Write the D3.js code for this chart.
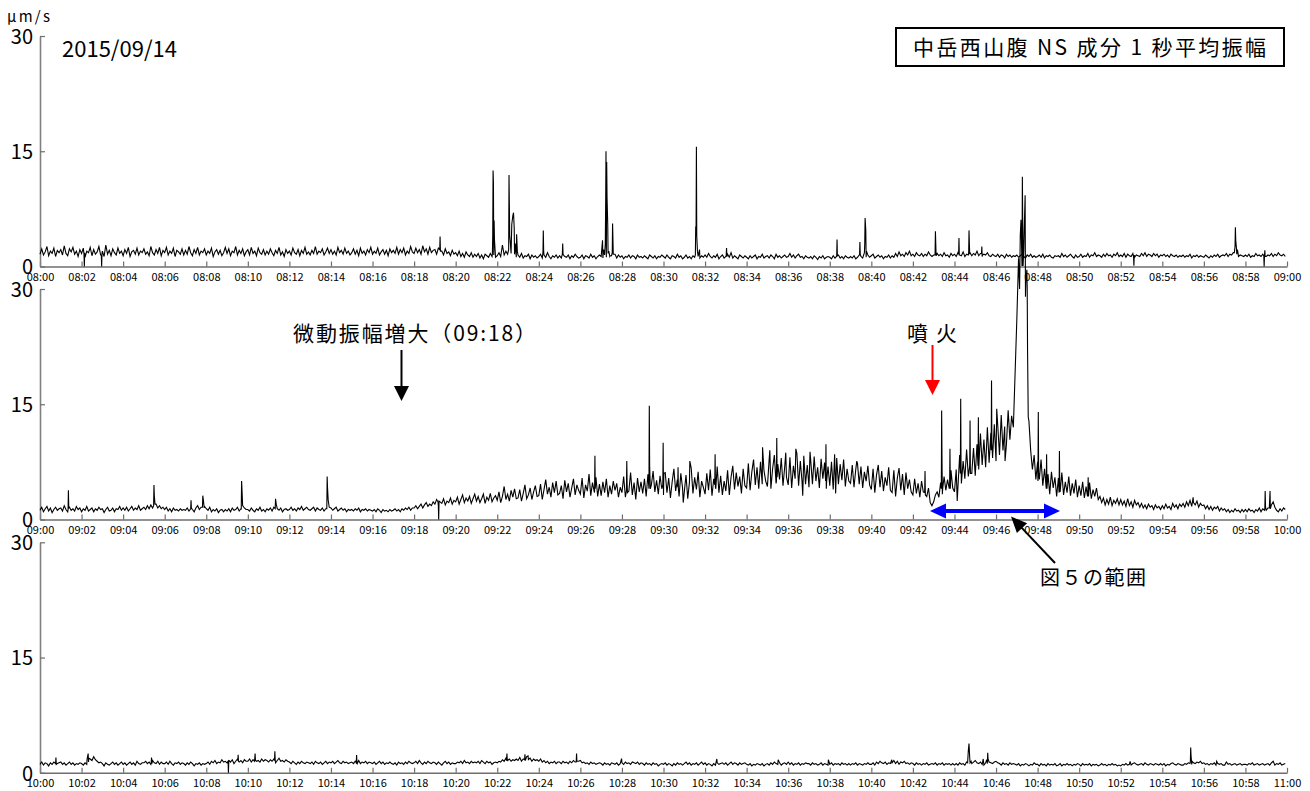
<!DOCTYPE html>
<html><head><meta charset="utf-8">
<script src="https://cdn.jsdelivr.net/npm/d3@7"></script>
<style>
body{margin:0;background:#fff}
svg{display:block}
text{font-family:"Noto Sans CJK JP","Noto Sans",sans-serif;fill:#000}
</style>
</head><body>
<svg id="chart" width="1310" height="791"></svg>
<script>
// ---------- DATA ----------
const panelStarts = ["2015-09-14T08:00:00", "2015-09-14T09:00:00", "2015-09-14T10:00:00"];
const yTicks = [0, 15, 30];
const sampleStep = 5; // seconds between samples inside each minute row

// panel 1 : 08:00-09:00, one row per minute (12 samples, every 5 s)
const p1Noise = [
[1.6,2.3,1.5,1.9,2.6,1.4,2.0,1.7,2.4,1.3,2.1,1.8],
[2.2,1.5,2.7,1.7,1.4,2.3,1.9,2.5,1.6,2.0,1.3,2.2],
[1.7,2.4,1.2,2.0,1.8,2.5,1.4,2.2,1.6,1.9,2.6,1.5],
[2.0,1.3,2.8,1.6,2.1,1.4,2.3,1.8,1.5,2.4,1.7,2.0],
[1.4,2.2,1.7,2.5,1.3,1.9,2.1,1.6,2.4,1.5,2.0,1.8],
[2.3,1.6,1.9,1.4,2.6,1.8,1.5,2.2,1.7,2.5,1.4,2.1],
[1.8,2.5,1.5,2.0,1.7,2.4,1.3,2.1,1.9,1.6,2.3,1.5],
[2.1,1.6,2.6,1.8,1.4,2.2,1.7,2.5,1.5,2.0,1.8,2.3],
[1.5,2.0,1.7,2.4,1.3,1.9,2.2,1.6,2.1,1.4,1.8,2.5],
[1.7,2.3,1.4,2.0,1.8,2.6,1.5,2.1,1.7,2.3,1.4,1.9],
[2.2,1.5,2.5,1.7,2.0,1.4,2.4,1.8,1.6,2.2,1.5,2.0],
[1.6,2.3,1.8,1.4,2.1,1.7,2.5,1.5,1.9,1.3,2.2,1.7],
[2.0,1.5,2.4,1.8,1.6,2.2,1.4,2.1,1.7,2.5,1.6,1.9],
[1.5,2.1,1.7,2.6,1.6,2.0,1.8,2.3,1.5,1.9,2.4,1.7],
[2.2,1.6,2.0,1.5,2.5,1.8,2.1,1.6,2.4,1.7,2.0,1.5],
[1.8,2.3,1.6,2.1,1.4,2.4,1.7,2.0,1.5,2.2,1.8,2.5],
[1.6,2.0,1.7,2.4,1.5,1.9,2.2,1.6,2.1,1.4,2.3,1.8],
[2.1,1.7,2.5,1.6,2.2,1.8,2.4,1.5,2.0,1.7,2.6,1.9],
[1.7,2.4,1.8,2.2,1.6,2.7,1.9,2.3,1.6,2.5,1.8,2.1],
[2.2,1.6,2.4,1.8,2.0,1.5,2.3,1.7,1.9,1.4,2.1,1.6],
[1.8,1.4,2.0,1.3,1.7,1.2,1.9,1.5,1.3,1.8,1.2,1.6],
[1.3,1.7,1.1,1.5,1.0,1.6,1.4,1.2,1.7,1.3,1.5,1.2],
[1.4,1.8,1.3,2.3,1.5,2.0,1.6,1.4,1.7,1.3,1.6,1.2],
[1.5,1.2,1.7,1.1,1.4,1.3,1.6,1.0,1.5,1.2,1.4,1.1],
[1.3,1.6,1.1,1.5,1.2,1.8,1.3,1.0,1.4,1.2,1.5,1.1],
[1.4,1.1,1.6,1.3,1.2,1.5,1.0,1.4,1.2,1.6,1.3,1.1],
[1.2,1.5,1.0,1.4,1.3,1.1,1.6,1.2,1.4,1.0,1.3,1.5],
[1.3,1.1,1.5,1.2,1.7,1.3,1.4,1.2,1.6,1.1,1.5,1.2],
[1.4,1.0,1.3,1.2,1.5,1.1,1.4,1.3,1.0,1.5,1.2,1.3],
[1.1,1.4,1.2,1.0,1.5,1.3,1.1,1.4,1.0,1.3,1.2,1.5],
[1.3,1.1,1.5,1.2,1.0,1.4,1.3,1.1,1.6,1.2,1.4,1.0],
[1.2,1.5,1.1,1.3,1.0,1.4,1.2,1.5,1.3,1.1,1.4,1.2],
[1.5,1.2,1.7,1.3,1.1,1.4,1.2,1.6,1.0,1.3,1.5,1.1],
[1.3,1.6,1.2,1.8,1.1,1.4,1.2,1.0,1.5,1.3,1.1,1.4],
[1.2,1.0,1.4,1.1,1.3,1.5,1.0,1.3,1.2,1.6,1.1,1.3],
[1.4,1.1,1.5,1.3,1.0,1.6,1.2,1.4,1.1,1.3,1.5,1.2],
[1.3,1.7,1.2,1.5,1.1,1.4,1.6,1.2,1.3,1.0,1.4,1.2],
[1.1,1.3,1.0,1.4,1.2,0.9,1.3,1.1,1.4,1.0,1.2,1.3],
[1.2,1.0,1.4,1.1,1.3,1.5,1.1,1.3,1.0,1.4,1.2,1.1],
[1.3,1.1,1.4,1.0,1.2,1.5,1.3,1.1,1.4,1.2,1.5,1.2],
[1.4,1.6,1.1,1.3,1.5,1.2,1.4,1.0,1.3,1.2,1.5,1.1],
[1.4,1.2,1.7,1.3,1.9,1.4,1.6,1.3,1.8,1.5,2.0,1.4],
[1.6,1.3,1.8,1.5,1.4,1.7,1.3,1.6,1.4,1.9,1.5,1.3],
[1.5,1.2,1.7,1.4,1.6,1.3,1.8,1.4,1.5,1.2,1.7,1.4],
[1.6,1.3,1.8,1.5,1.4,1.9,1.3,1.6,1.5,1.8,1.4,1.7],
[1.5,2.0,1.4,1.7,1.3,1.6,1.5,1.8,1.4,1.3,1.6,1.4],
[1.3,1.6,1.2,1.5,1.4,1.1,1.6,1.3,1.5,1.2,1.4,1.3],
[1.5,1.2,1.4,1.6,1.3,1.1,1.5,1.3,1.6,1.2,1.4,1.2],
[1.3,1.5,1.2,1.6,1.1,1.4,1.3,1.5,1.2,1.1,1.4,1.3],
[1.4,1.2,1.7,1.3,1.5,1.2,1.4,1.6,1.3,1.1,1.5,1.2],
[1.3,1.6,1.2,1.4,1.3,1.7,1.2,1.5,1.4,1.8,1.3,1.5],
[1.4,1.2,1.6,1.3,1.7,1.4,1.5,1.2,1.6,1.4,1.8,1.3],
[1.5,1.3,1.7,1.2,1.6,1.4,1.3,1.7,1.2,1.5,1.4,1.3],
[1.7,1.4,1.8,1.3,1.6,1.5,1.3,1.7,1.4,1.6,1.2,1.5],
[1.4,1.6,1.3,1.5,1.2,1.6,1.4,1.3,1.5,1.2,1.4,1.3],
[1.5,1.2,1.4,1.3,1.6,1.1,1.4,1.3,1.5,1.2,1.4,1.3],
[1.2,1.5,1.3,1.1,1.4,1.2,1.5,1.3,1.6,1.2,1.4,1.5],
[1.4,1.7,1.3,1.6,1.5,1.8,1.4,1.6,1.3,1.5,1.4,1.3],
[1.5,1.3,1.6,1.2,1.4,1.3,1.7,1.4,1.5,1.3,1.6,1.4],
[1.3,1.5,1.4,1.7,1.3,1.6,1.4,1.8,1.5,1.4,1.6,1.3]
];
// [second, value] short events read at 1-s resolution
const p1Spikes = [
[127,1.6],[128,0],[129,1.8],[177,1.5],[178,0],[179,1.7],
[1154,2.2],[1155,3.9],[1156,2.0],
[1306,1.6],[1307,4.0],[1308,12.5],[1309,10.9],[1311,6.0],[1312,3.5],[1314,2.0],[1335,2.8],
[1353,2.2],[1354,11.9],[1355,8.0],[1356,4.0],[1358,3.0],[1362,5.5],[1365,6.6],[1367,7.0],[1369,5.0],[1372,3.0],[1376,4.2],[1378,2.0],
[1452,1.8],[1453,4.7],[1454,2.0],
[1508,1.6],[1509,3.0],[1511,1.5],
[1624,3.4],[1627,2.2],[1632,3.0],[1633,8.0],[1634,15.0],[1636,13.6],[1637,9.0],[1639,5.5],[1642,2.0],[1646,1.4],[1652,1.8],[1653,5.6],[1655,1.6],
[1892,1.5],[1893,5.2],[1894,4.0],[1895,15.6],[1896,4.0],[1898,2.0],[1904,2.2],
[1981,1.4],[1982,2.4],[1983,1.3],
[2299,1.3],[2301,3.5],[2302,1.4],
[2366,1.5],[2367,3.2],[2368,1.6],[2380,1.8],[2381,3.0],[2382,6.3],[2384,4.7],[2386,2.0],
[2584,1.5],[2585,4.6],[2586,3.0],[2587,1.4],
[2652,1.6],[2653,3.7],[2654,1.5],
[2681,1.8],[2682,4.7],[2683,3.0],[2684,1.6],
[2718,1.7],[2719,2.6],[2721,1.5],
[3157,1.3],[3158,0.1],[3159,1.5],
[3448,1.8],[3450,2.6],[3451,5.1],[3452,3.4],[3454,2.4],[3457,2.2],
[3533,1.4],[3534,0],[3536,2.1],[3537,1.3]
];

// panel 2 : 09:00-10:00
const p2Noise = [
[1.2,1.6,1.0,1.4,1.7,1.1,1.5,0.9,1.3,1.6,1.2,1.4],
[1.5,1.1,1.8,1.3,1.0,1.6,1.2,1.4,1.1,1.7,1.3,1.5],
[1.0,1.4,1.2,1.7,1.1,1.3,1.5,1.0,1.4,1.2,1.6,1.3],
[1.4,0.9,1.3,1.6,1.1,1.2,1.5,1.0,1.4,1.3,1.7,1.2],
[1.5,1.2,1.6,1.1,1.4,1.7,1.2,1.5,1.3,1.8,1.2,1.4],
[1.6,1.3,1.8,1.4,1.9,1.5,1.7,2.0,1.5,1.8,1.4,1.6],
[1.3,1.6,1.1,1.4,1.0,1.5,1.2,1.3,1.1,1.4,1.2,1.3],
[1.2,1.5,1.1,1.6,1.3,1.0,1.5,1.8,1.3,1.6,1.4,1.7],
[1.4,1.2,1.6,1.0,1.3,1.1,1.4,0.9,1.2,1.3,1.0,1.3],
[1.1,1.4,1.0,1.5,1.2,1.3,1.6,1.1,1.4,1.2,1.5,1.3],
[1.3,1.1,1.5,1.2,1.0,1.4,1.2,1.6,1.1,1.3,1.0,1.4],
[1.2,1.5,1.1,1.6,1.3,1.4,1.2,1.5,1.0,1.3,1.4,1.2],
[1.3,1.6,1.2,1.4,1.1,1.5,1.3,1.7,1.2,1.4,1.6,1.3],
[1.2,1.4,1.6,1.1,1.5,1.3,1.2,1.5,1.1,1.4,1.3,1.2],
[1.5,1.2,1.4,1.6,1.1,1.3,1.5,1.2,1.4,1.0,1.3,1.2],
[1.3,1.1,1.4,1.2,1.5,1.0,1.3,1.2,1.4,1.1,1.3,1.2],
[1.1,1.3,1.0,1.4,1.2,0.9,1.3,1.1,1.2,1.0,1.3,1.1],
[1.2,1.4,1.1,1.3,1.0,1.4,1.2,1.5,1.3,1.6,1.2,1.5],
[1.5,1.8,1.4,1.7,2.0,1.5,1.9,2.2,1.7,2.0,1.8,2.3],
[2.0,2.6,1.8,2.3,2.1,2.7,1.9,2.4,2.2,2.8,2.0,2.5],
[2.3,2.9,2.0,2.6,3.2,2.2,2.8,2.4,3.0,2.1,2.7,3.3],
[2.4,3.0,2.2,2.7,3.3,2.1,2.9,2.5,3.4,2.3,2.8,3.1],
[2.5,3.6,2.2,3.0,4.3,2.6,3.3,2.4,3.8,2.9,4.0,2.7],
[2.8,3.9,2.4,3.4,4.5,2.7,3.2,4.1,2.6,3.6,4.4,3.0],
[3.1,4.6,2.6,3.9,5.2,3.3,4.2,2.9,4.8,3.5,5.0,3.2],
[3.4,4.4,2.7,5.1,3.6,4.7,2.9,4.1,5.3,3.2,4.5,3.8],
[3.3,5.4,2.8,4.5,3.7,5.9,3.1,4.8,3.6,5.5,3.0,4.6],
[3.1,4.9,3.5,5.3,2.9,4.4,3.3,5.0,3.8,4.7,2.9,4.2],
[3.5,5.6,2.9,4.6,3.7,6.1,3.2,4.8,2.6,5.4,3.6,4.9],
[3.4,5.3,3.0,5.9,3.7,4.5,6.3,3.6,5.1,3.3,5.7,4.0],
[3.2,6.1,3.5,5.4,2.8,4.9,6.6,3.7,5.2,3.0,6.0,4.1],
[3.6,5.8,2.7,4.9,6.7,3.4,5.5,3.9,6.2,2.9,5.0,4.2],
[3.3,6.0,3.8,6.5,3.1,5.3,4.2,6.9,3.5,5.7,3.2,5.0],
[3.7,6.4,3.2,5.5,7.0,3.9,6.1,4.3,5.6,3.4,6.6,4.4],
[4.1,7.3,3.8,6.2,7.8,4.5,6.8,4.0,7.5,4.6,6.4,5.0],
[4.3,7.8,4.0,6.6,8.4,4.7,7.2,5.2,8.0,4.4,6.9,5.5],
[4.5,8.1,4.1,7.0,5.3,8.6,4.4,7.6,4.9,8.3,4.6,7.1],
[4.2,7.7,4.6,8.2,5.0,6.8,4.1,7.9,5.3,7.4,4.0,6.9],
[4.4,7.5,3.9,6.8,8.0,4.6,7.2,5.1,7.8,4.3,6.6,5.0],
[4.7,7.1,4.2,6.5,7.3,4.6,6.9,4.1,6.2,5.0,7.0,4.5],
[3.9,6.6,3.5,5.8,7.1,4.2,6.3,3.7,5.5,4.4,6.8,3.8],
[3.5,6.4,3.0,5.4,6.7,3.8,5.9,3.2,6.1,4.0,5.2,3.6],
[3.2,5.3,3.4,4.7,2.9,5.0,3.6,4.4,3.0,4.1,2.2,1.8],
[2.3,3.2,3.6,2.9,4.8,3.3,5.6,3.8,5.2,4.0,6.4,4.1],
[3.6,6.5,4.2,8.4,4.7,7.6,5.3,9.1,5.6,10.0,6.0,9.3],
[5.7,9.8,6.5,11.2,7.1,10.4,6.8,12.0,7.4,11.3,8.0,12.4],
[7.6,12.2,8.4,13.6,9.0,12.1,9.8,14.2,10.4,13.5,12.0,15.6],
[26,31,37,33,35,29,30,12.8,9.0,6.5,8.4,5.2],
[7.5,5.2,7.8,4.4,6.6,3.8,5.9,3.3,6.2,4.1,5.5,3.0],
[5.4,3.6,6.1,3.2,4.9,3.5,5.6,3.1,4.7,3.4,5.2,2.9],
[4.4,3.1,4.9,2.8,4.3,3.4,4.8,2.7,3.9,3.0,4.1,2.6],
[3.0,2.2,2.8,1.9,2.6,2.0,2.9,1.8,2.5,2.1,2.7,1.9],
[2.6,1.9,2.4,1.7,2.7,1.8,2.3,1.6,2.5,1.9,2.2,1.6],
[2.1,1.5,1.9,1.4,2.0,1.6,1.8,1.3,1.9,1.5,1.7,1.3],
[1.8,1.4,2.0,1.5,1.7,1.3,2.1,1.6,1.9,1.4,2.0,1.7],
[2.1,1.6,2.3,1.8,2.5,1.7,2.2,1.9,2.4,1.6,2.1,1.8],
[1.9,1.4,1.8,1.3,1.7,1.2,1.6,1.4,1.7,1.1,1.5,1.2],
[1.4,1.0,1.3,0.9,1.2,1.0,1.4,1.1,1.2,0.9,1.3,1.0],
[1.3,1.0,1.4,1.1,1.2,0.9,1.3,1.1,1.5,1.0,1.4,1.2],
[1.2,1.5,2.6,1.9,2.3,1.6,1.2,1.0,1.4,1.1,1.5,1.3]
];
const p2Spikes = [
[81,1.3],[82,3.8],[83,1.5],
[328,1.8],[329,4.5],[330,3.1],[332,2.0],
[435,1.4],[436,2.5],[437,1.5],
[469,1.6],[470,3.1],[472,2.4],[474,1.5],
[581,1.3],[582,5.0],[583,4.0],[585,1.8],
[679,1.4],[680,2.7],[682,2.0],
[828,1.4],[829,5.6],[830,4.2],[832,2.5],[835,1.6],
[1149,2.3],[1151,0],[1152,2.4],
[1601,3.5],[1602,8.3],[1603,4.0],
[1693,3.8],[1694,7.6],[1696,3.5],
[1758,4.0],[1759,14.8],[1760,7.0],[1762,4.0],
[1798,4.5],[1799,10.0],[1801,6.0],
[1841,4.2],[1842,6.8],[1843,4.0],[1857,2.2],[1876,7.6],
[1948,4.5],[1949,8.5],[1951,4.0],
[2086,9.4],[2107,9.0],[2126,5.0],[2127,10.6],[2128,5.5],[2153,8.7],
[2182,9.2],[2202,3.1],[2223,8.8],
[2268,5.0],[2269,9.8],[2271,5.0],[2294,8.5],[2297,3.4],[2358,7.6],
[2554,3.5],[2555,6.3],[2556,3.2],
[2602,4.0],[2603,14.2],[2604,8.0],[2606,4.0],
[2626,4.5],[2627,9.2],[2628,4.0],
[2648,2.4],
[2657,6.0],[2658,15.7],[2659,7.0],
[2684,7.0],[2685,12.9],[2686,6.0],
[2708,7.0],[2709,13.3],[2711,7.5],
[2746,9.0],[2747,18.1],[2748,10.0],
[2762,14.4],[2786,7.6],[2815,19.0],
[2825,34],[2828,30],[2832,39],[2836,44.6],[2838,33],[2841,37],[2844,42.2],[2846,31],[2849,32.5],[2851,22],[2853,13.3],
[2881,5.0],[2882,14.0],[2883,6.0],
[2905,4.0],[2906,8.5],[2907,4.0],
[2942,3.5],[2943,8.9],[2944,4.0],
[3024,3.0],[3026,5.5],[3027,3.0],
[3329,2.9],
[3536,1.4],[3537,3.7],[3538,1.6],[3549,1.5],[3551,3.7],[3552,1.4]
];

// panel 3 : 10:00-11:00
const p3Noise = [
[1.1,1.4,1.0,1.3,1.2,0.9,1.3,1.1,1.4,1.0,1.2,1.3],
[1.4,1.1,1.3,1.0,1.2,1.4,1.1,1.3,1.0,1.2,1.1,1.3],
[1.2,1.0,1.3,1.1,1.4,1.8,1.6,2.1,1.7,1.5,1.3,1.4],
[1.2,0.9,1.3,1.1,1.0,1.2,1.4,1.1,1.3,1.0,1.2,1.4],
[1.1,1.3,1.0,1.2,1.4,1.1,1.3,1.0,1.5,1.2,1.1,1.3],
[1.3,1.5,1.2,1.4,1.1,1.6,1.3,1.2,1.5,1.1,1.4,1.2],
[1.2,1.4,1.1,1.5,1.2,1.0,1.3,1.2,1.4,1.1,1.3,1.2],
[1.0,1.3,1.1,1.4,1.2,0.9,1.2,1.1,1.3,1.0,1.2,1.1],
[1.2,1.4,1.1,1.5,1.3,1.6,1.2,1.4,1.3,1.7,1.4,1.5],
[1.3,1.6,1.4,1.7,1.2,1.5,1.8,1.4,1.6,1.3,1.7,1.5],
[1.5,1.8,1.4,1.7,1.9,1.5,1.6,1.4,1.8,1.5,1.7,1.6],
[1.4,1.7,1.5,1.8,1.3,1.6,1.9,1.5,1.6,1.4,1.7,1.5],
[1.4,1.2,1.5,1.3,1.1,1.4,1.2,1.5,1.3,1.2,1.4,1.3],
[1.2,1.4,1.1,1.5,1.3,1.2,1.4,1.1,1.3,1.5,1.2,1.4],
[1.3,1.5,1.2,1.4,1.6,1.3,1.2,1.5,1.3,1.4,1.2,1.3],
[1.4,1.2,1.5,1.3,1.6,1.2,1.4,1.3,1.5,1.2,1.4,1.3],
[1.2,1.4,1.1,1.3,1.5,1.2,1.4,1.1,1.3,1.2,1.4,1.2],
[1.1,1.3,1.0,1.4,1.2,1.3,1.1,1.4,1.2,1.5,1.3,1.2],
[1.3,1.5,1.2,1.6,1.3,1.1,1.4,1.2,1.5,1.3,1.2,1.4],
[1.3,1.1,1.4,1.2,1.0,1.3,1.5,1.2,1.4,1.1,1.3,1.2],
[1.2,1.4,1.3,1.5,1.2,1.6,1.3,1.4,1.2,1.5,1.3,1.4],
[1.3,1.5,1.2,1.6,1.4,1.2,1.5,1.3,1.4,1.1,1.3,1.4],
[1.3,1.5,1.4,1.7,1.5,1.9,1.6,1.8,1.5,1.7,1.6,1.8],
[1.6,2.0,1.5,1.8,1.6,2.1,1.7,1.9,1.5,1.8,1.6,1.7],
[1.5,1.8,1.4,1.6,1.3,1.5,1.2,1.4,1.3,1.5,1.2,1.4],
[1.4,1.2,1.5,1.3,1.4,1.2,1.5,1.3,1.6,1.4,1.7,1.5],
[1.6,1.3,1.4,1.2,1.3,1.1,1.4,1.2,1.3,1.1,1.2,1.3],
[1.2,1.0,1.3,1.1,1.2,1.0,1.3,1.2,1.1,1.3,1.0,1.2],
[1.3,1.1,1.4,1.2,1.3,1.1,1.4,1.3,1.2,1.4,1.1,1.3],
[1.2,1.0,1.3,1.1,1.2,1.0,1.3,1.1,1.2,0.9,1.1,1.2],
[1.1,1.3,1.0,1.2,1.1,0.9,1.2,1.0,1.3,1.1,1.2,1.0],
[1.2,1.4,1.1,1.3,1.0,1.2,1.1,1.3,1.0,1.2,1.4,1.1],
[1.3,1.0,1.2,1.1,0.9,1.2,1.0,1.3,1.1,1.2,1.3,1.1],
[1.3,1.0,1.2,1.4,1.1,1.3,1.2,1.0,1.3,1.1,1.2,1.3],
[1.1,1.0,1.2,0.9,1.1,1.0,1.2,1.1,1.0,1.2,0.9,1.1],
[1.2,1.0,1.3,1.1,1.4,1.2,1.1,1.3,1.0,1.2,1.3,1.1],
[1.4,1.1,1.3,1.0,1.2,1.1,1.3,1.0,1.2,1.1,1.3,1.2],
[1.2,1.0,1.3,1.1,1.2,1.0,1.1,1.3,1.0,1.2,1.1,1.0],
[1.1,1.3,1.0,1.2,1.1,1.2,1.0,1.3,1.1,1.2,1.0,1.2],
[1.0,1.2,1.1,1.3,1.0,1.2,1.1,1.0,1.2,1.1,1.3,1.1],
[1.1,1.3,1.0,1.4,1.2,1.5,1.3,1.2,1.4,1.1,1.3,1.2],
[1.3,1.6,1.2,1.5,1.1,1.4,1.3,1.5,1.2,1.3,1.1,1.3],
[1.2,1.0,1.3,1.1,1.2,1.0,1.2,1.1,1.3,1.0,1.1,1.2],
[1.1,1.3,1.0,1.2,1.1,1.3,1.0,1.2,1.1,1.2,1.0,1.2],
[1.0,1.2,1.0,1.3,1.1,1.2,1.0,1.4,1.1,1.3,1.2,1.4],
[1.6,1.3,1.2,1.4,1.1,1.0,1.3,1.2,1.4,1.3,1.2,1.4],
[1.5,1.3,1.2,1.0,1.3,1.1,1.2,1.0,1.3,1.1,1.2,1.1],
[1.0,1.2,0.9,1.1,1.0,1.2,1.1,0.9,1.1,1.0,1.3,1.1],
[1.1,0.9,1.2,1.0,1.1,0.9,1.2,1.0,1.1,1.0,1.2,0.9],
[1.0,1.2,0.9,1.1,1.0,1.2,1.0,1.1,0.9,1.1,1.0,1.2],
[1.1,0.9,1.2,1.0,1.1,1.0,1.2,0.9,1.1,1.0,1.1,0.9],
[1.0,1.2,1.0,1.1,0.9,1.1,1.0,1.2,1.0,1.1,0.9,1.0],
[0.9,1.1,1.0,1.2,1.0,1.1,1.0,1.2,1.3,1.1,1.0,1.1],
[1.2,1.0,1.3,1.1,1.0,1.2,1.1,1.0,1.2,1.1,1.0,1.2],
[1.0,1.2,0.9,1.1,1.0,1.2,1.3,1.1,1.0,1.2,1.1,1.0],
[1.0,1.2,1.1,1.3,1.2,1.1,1.3,1.2,1.4,1.3,1.5,1.2],
[1.3,1.1,1.2,1.0,1.2,1.1,1.3,1.0,1.2,1.1,1.2,1.0],
[1.0,1.4,1.1,1.2,1.0,1.1,1.2,1.0,1.1,1.2,1.0,1.1],
[1.1,1.0,1.2,1.1,1.3,1.0,1.1,1.2,1.0,1.1,1.2,1.0],
[1.1,1.2,1.0,1.3,1.1,1.0,1.2,1.1,1.3,1.0,1.1,1.2]
];
const p3Spikes = [
[45,1.2],[46,2.0],[47,1.1],
[136,1.8],[139,2.5],[141,1.9],
[321,1.3],[322,2.0],[323,1.2],
[543,1.5],[544,0],[546,1.6],
[571,1.6],[572,2.35],[573,1.5],
[619,1.5],[621,2.5],[622,1.6],
[677,1.6],[678,2.8],[679,1.7],
[913,1.3],[914,2.3],[916,1.2],
[1347,1.6],[1348,2.5],[1349,1.7],
[1399,1.7],[1400,2.4],[1401,1.6],[1409,2.2],
[1548,1.4],[1549,2.5],[1550,1.5],
[1679,1.85],[1954,1.8],[2131,1.7],[2276,1.7],[2459,1.7],
[2678,1.3],[2680,2.9],[2682,3.8],[2684,2.0],[2688,1.5],
[2723,1.8],[2733,1.7],[2736,2.6],[2737,1.8],
[3147,1.5],
[3321,1.4],[3322,3.3],[3323,2.2],[3326,1.5],
[3397,1.5],[3560,1.5]
];

const panelNoise = [p1Noise, p2Noise, p3Noise];
const panelSpikes = [p1Spikes, p2Spikes, p3Spikes];

// ---------- LAYOUT ----------
const svg = d3.select("#chart");
const xLeft = 40, xRight = 1287;
const panelTops = [36, 289, 542.3];
const panelH = 230.5;

function buildSeries(rows, spikes) {
  const m = new Map();
  rows.forEach((row, minute) => row.forEach((v, j) => m.set(minute * 60 + j * sampleStep, v)));
  spikes.forEach(([t, v]) => m.set(t, v));
  return Array.from(m, ([t, v]) => ({t, v})).sort((a, b) => a.t - b.t);
}

panelStarts.forEach((s, i) => {
  const start = new Date(s);
  const end = new Date(start.getTime() + 3600 * 1000);
  const top = panelTops[i], bottom = top + panelH;
  const x = d3.scaleTime().domain([start, end]).range([xLeft, xRight]);
  const y = d3.scaleLinear().domain([0, 30]).range([bottom, top]);
  const g = svg.append("g");

  const xa = g.append("g").attr("transform", `translate(0,${bottom})`)
    .call(d3.axisBottom(x).ticks(d3.timeMinute.every(2)).tickFormat(d3.timeFormat("%H:%M"))
      .tickSizeInner(-5).tickSizeOuter(0));
  xa.select(".domain").attr("stroke", "#6e6e6e").attr("stroke-width", 1.5);
  xa.selectAll(".tick line").attr("stroke", "#6e6e6e").attr("stroke-width", 1.2);
  xa.selectAll(".tick text").attr("y", 14).attr("dy", 0)
    .style("font-size", "11px").style("font-family", "'Noto Sans CJK JP',sans-serif").attr("fill", "#222");

  const ya = g.append("g").attr("transform", `translate(${xLeft},0)`)
    .call(d3.axisLeft(y).tickValues(yTicks).tickFormat(d3.format("d")).tickSizeInner(-5).tickSizeOuter(0).tickPadding(7));
  ya.select(".domain").attr("stroke", "#808080").attr("stroke-width", 1.6);
  ya.selectAll(".tick line").attr("stroke", "#6e6e6e").attr("stroke-width", 1.2);
  ya.selectAll(".tick text").attr("dy", "0.36em")
    .style("font-size", "20px").style("font-family", "'Noto Sans CJK JP',sans-serif").attr("fill", "#000");

  const data = buildSeries(panelNoise[i], panelSpikes[i]);
  const line = d3.line()
    .x(d => x(new Date(start.getTime() + d.t * 1000)))
    .y(d => y(d.v));
  g.append("path").datum(data).attr("d", line)
    .attr("fill", "none").attr("stroke", "#000").attr("stroke-width", 1.1).attr("stroke-linejoin", "miter");
});

// ---------- ANNOTATIONS ----------
svg.append("text").attr("x", 7).attr("y", 22).style("font-size", "15px")
  .attr("textLength", 43).attr("lengthAdjust", "spacing").text("μm/s");
svg.append("text").attr("x", 62).attr("y", 57).style("font-size", "22px").text("2015/09/14");

svg.append("rect").attr("x", 896).attr("y", 28).attr("width", 388).attr("height", 38)
  .attr("fill", "#fff").attr("stroke", "#000").attr("stroke-width", 2);
svg.append("text").attr("x", 913).attr("y", 55).style("font-size", "21px")
  .attr("textLength", 353).attr("lengthAdjust", "spacing").text("中岳西山腹 NS 成分 1 秒平均振幅");

svg.append("text").attr("x", 293).attr("y", 341).style("font-size", "21px")
  .attr("textLength", 243).attr("lengthAdjust", "spacing").text("微動振幅増大（09:18）");
svg.append("text").attr("x", 907).attr("y", 341).style("font-size", "21px")
  .attr("textLength", 50).attr("lengthAdjust", "spacing").text("噴 火");
svg.append("text").attr("x", 1040).attr("y", 585).style("font-size", "20px")
  .attr("textLength", 106).attr("lengthAdjust", "spacing").text("図５の範囲");

function arrow(x1, y1, x2, y2, color, w, headLen, headW) {
  const dx = x2 - x1, dy = y2 - y1, L = Math.hypot(dx, dy);
  const ux = dx / L, uy = dy / L;
  const bx = x2 - ux * headLen, by = y2 - uy * headLen;
  svg.append("line").attr("x1", x1).attr("y1", y1).attr("x2", bx + ux).attr("y2", by + uy)
    .attr("stroke", color).attr("stroke-width", w);
  const px = -uy * headW / 2, py = ux * headW / 2;
  svg.append("path").attr("d", `M${x2},${y2}L${bx + px},${by + py}L${bx - px},${by - py}Z`).attr("fill", color);
}
arrow(401.5, 350, 401.5, 401, "#000", 2, 15, 15);
arrow(932.5, 345, 932.5, 395, "#ff0000", 2, 15, 15);
arrow(995, 511, 930, 511, "#0000ff", 4, 16, 15);
arrow(995, 511, 1060, 511, "#0000ff", 4, 16, 15);
arrow(1055, 563, 1011, 516.5, "#000", 2, 16, 14);
</script>
</body></html>
